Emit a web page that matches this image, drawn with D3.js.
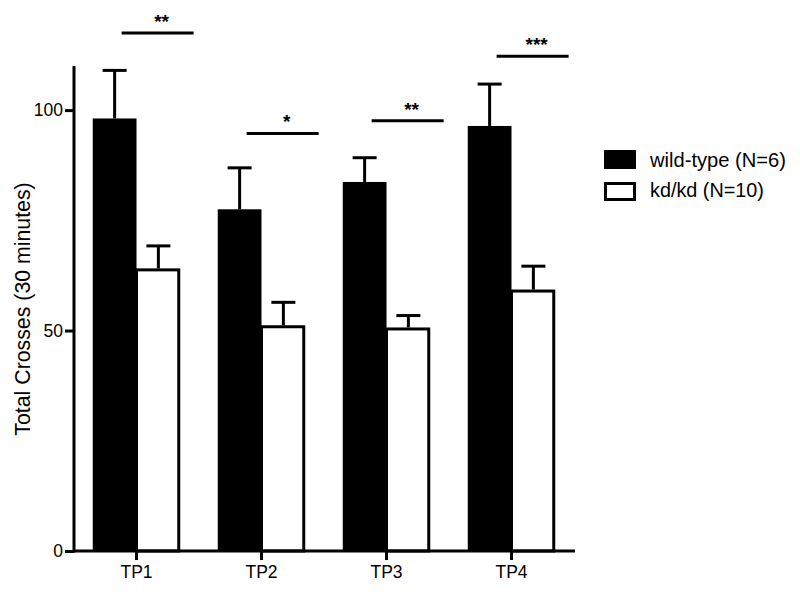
<!DOCTYPE html>
<html>
<head>
<meta charset="utf-8">
<script src="https://cdn.jsdelivr.net/npm/d3@7"></script>
<style>
  body { margin: 0; background: #fff; }
  text { font-family: "Liberation Sans", Arial, sans-serif; fill: #000; }
</style>
</head>
<body>
<div id="chart"></div>
<script>
// data
const categories = ["TP1", "TP2", "TP3", "TP4"];
const wildType = [98.1, 77.5, 83.7, 96.4];
const wildTypeErr = [10.9, 9.4, 5.5, 9.5];
const kdkd = [64.1, 51.2, 50.7, 59.3];
const kdkdErr = [5.1, 5.2, 2.7, 5.3];
const sigLabels = ["**", "*", "**", "***"];
const sigLevels = [117.5, 94.7, 97.6, 112.2];
const yTicks = [0, 50, 100];
const seriesNames = ["wild-type (N=6)", "kd/kd (N=10)"];

var width = 800, height = 595;
var lw = 3;

const svg = d3.select("#chart")
    .append("svg")
    .attr("width", width)
    .attr("height", height);

const x = d3.scaleBand()
    .domain(categories)
    .range([74, 574])
    .paddingInner(0.3)
    .paddingOuter(0.15);

const y = d3.scaleLinear()
    .domain([0, 110])
    .range([551, 66]);

const half = x.bandwidth() / 2;

/* bars */
const groups = svg.selectAll("g.grp")
    .data(categories)
    .enter()
    .append("g")
    .attr("class", "grp")
    .attr("transform", d => "translate(" + x(d) + ",0)");

// wild-type, black filled
groups.append("rect")
    .attr("x", 0)
    .attr("y", (d, i) => y(wildType[i]))
    .attr("width", half)
    .attr("height", (d, i) => y(0) - y(wildType[i]))
    .attr("fill", "#000");

// kd/kd, white with black outline
groups.append("rect")
    .attr("x", half)
    .attr("y", (d, i) => y(kdkd[i]) + lw/2)
    .attr("width", half - lw/2)
    .attr("height", (d, i) => y(0) - y(kdkd[i]) - lw/2)
    .attr("fill", "#fff")
    .attr("stroke", "#000")
    .attr("stroke-width", lw);

/* error bars, upper only */
function errBar(vals, errs, cx){
    groups.append("line")
        .attr("x1", cx).attr("x2", cx)
        .attr("y1", (d, i) => y(vals[i]))
        .attr("y2", (d, i) => y(vals[i] + errs[i]))
        .attr("stroke", "#000").attr("stroke-width", lw);
    groups.append("line")
        .attr("x1", cx - 12).attr("x2", cx + 12)
        .attr("y1", (d, i) => y(vals[i] + errs[i]))
        .attr("y2", (d, i) => y(vals[i] + errs[i]))
        .attr("stroke", "#000").attr("stroke-width", lw);
}
errBar(wildType, wildTypeErr, half/2);
errBar(kdkd, kdkdErr, half + half/2);

/* significance lines */
const sigStart = x.bandwidth() * 0.33, sigLen = 72;
groups.append("line")
    .attr("x1", sigStart)
    .attr("x2", sigStart + sigLen)
    .attr("y1", (d, i) => y(sigLevels[i]))
    .attr("y2", (d, i) => y(sigLevels[i]))
    .attr("stroke", "#000").attr("stroke-width", lw);

groups.append("text")
    .attr("x", sigStart + sigLen/2 + 4)
    .attr("y", (d, i) => y(sigLevels[i]) - 5)
    .attr("text-anchor", "middle")
    .style("font-size", "19px")
    .style("font-weight", "bold")
    .text((d, i) => sigLabels[i]);

/* axes */
const xAxis = d3.axisBottom(x).tickSize(9).tickPadding(6).tickSizeOuter(0);
const gx = svg.append("g")
    .attr("transform", "translate(0," + y(0) + ")")
    .call(xAxis);
gx.select(".domain").remove();
gx.append("line")
    .attr("x1", 74).attr("x2", 575)
    .attr("stroke", "#000").attr("stroke-width", lw);
gx.selectAll(".tick line").attr("stroke-width", lw);
gx.selectAll(".tick text").style("font-size", "17.5px").attr("fill", "#000");

const yAxis = d3.axisLeft(y).tickValues(yTicks).tickSize(9).tickPadding(2).tickSizeOuter(0);
const gy = svg.append("g")
    .attr("transform", "translate(74,0)")
    .call(yAxis);
gy.select(".domain").remove();
gy.append("line")
    .attr("y1", y(0) + 1.5).attr("y2", y(110))
    .attr("stroke", "#000").attr("stroke-width", lw);
gy.selectAll(".tick line").attr("stroke-width", lw);
gy.selectAll(".tick text").style("font-size", "17.5px").attr("fill", "#000");

svg.append("text")
    .attr("transform", "translate(30,309) rotate(-90)")
    .attr("text-anchor", "middle")
    .style("font-size", "21.3px")
    .text("Total Crosses (30 minutes)");

/* legend */
const legend = svg.append("g").attr("transform", "translate(604,150)");
legend.append("rect")
    .attr("x", 0).attr("y", 0)
    .attr("width", 32).attr("height", 19)
    .attr("fill", "#000");
legend.append("rect")
    .attr("x", 1.5).attr("y", 33.5)
    .attr("width", 29).attr("height", 16)
    .attr("fill", "#fff").attr("stroke", "#000").attr("stroke-width", lw);

// reference legend text is a bit wider than the font; stretch it to fit
const legendWidths = [136, 114];
legend.selectAll("text.lg")
    .data(seriesNames)
    .enter()
    .append("text")
    .attr("class", "lg")
    .style("font-size", "19.5px")
    .text(d => d)
    .attr("transform", function(d, i){
        var w = this.getComputedTextLength() || legendWidths[i];
        return "translate(46," + (17 + i * 30) + ") scale(" + (legendWidths[i] / w) + ",1)";
    });
</script>
</body>
</html>
